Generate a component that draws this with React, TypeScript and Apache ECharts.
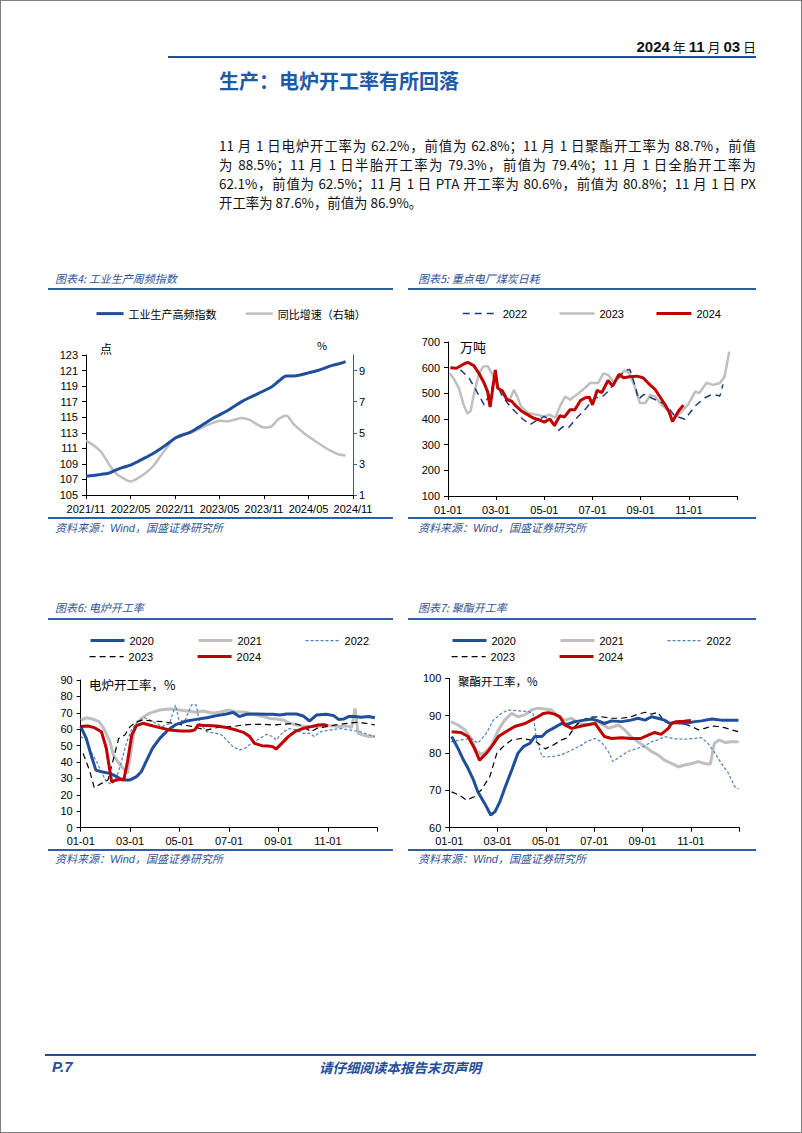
import React, { useEffect, useRef } from "react";
import * as echarts from "echarts";

const LATIN = "'Liberation Sans', Arial, 'Noto Sans CJK SC', sans-serif";
const CJK = "'Noto Sans CJK SC', 'Liberation Sans', sans-serif";

const BLUE = "#1f4e9a";
const RED = "#c00000";
const GRAY = "#bfbfbf";
const LIGHTBLUE = "#4f81bd";
const NAVY = "#1f3c7a";
const CAPTION = "#2f5496";
const RULE = "#2e5ea8";

// ---------- 图表4 ----------
const c4Months = [
  "2021/11", "2021/12", "2022/01", "2022/02", "2022/03", "2022/04", "2022/05", "2022/06", "2022/07",
  "2022/08", "2022/09", "2022/10", "2022/11", "2022/12", "2023/01", "2023/02", "2023/03", "2023/04",
  "2023/05", "2023/06", "2023/07", "2023/08", "2023/09", "2023/10", "2023/11", "2023/12", "2024/01",
  "2024/02", "2024/03", "2024/04", "2024/05", "2024/06", "2024/07", "2024/08", "2024/09", "2024/10",
  "2024/11",
];
const c4Index = [
  107.4, 107.5, 107.65, 107.8, 108.2, 108.55, 108.85, 109.3, 109.8, 110.3, 110.9, 111.6,
  112.3, 112.7, 113.05, 113.6, 114.2, 114.8, 115.3, 115.8, 116.4, 117.0, 117.5, 117.95,
  118.4, 118.9, 119.65, 120.3, 120.3, 120.45, 120.7, 120.95, 121.25, 121.6, 121.85, 122.15,
];
const c4Yoy = [
  4.5, 4.2, 3.8, 3.05, 2.4, 2.08, 1.86, 2.08, 2.4, 2.83, 3.47, 4.1,
  4.66, 4.91, 4.98, 5.19, 5.41, 5.62, 5.77, 5.73, 5.84, 5.95, 5.84, 5.56,
  5.34, 5.41, 5.9, 6.1, 5.56, 5.13, 4.76, 4.44, 4.12, 3.84, 3.62, 3.54,
];

// ---------- 图表5 重点电厂煤炭日耗（万吨） ----------
const coal2022: [string, number][] = [
  ["01-17", 592], ["01-28", 560], ["02-06", 510], ["02-15", 455], ["02-22", 500], ["02-28", 560],
  ["03-07", 500], ["03-16", 460], ["03-25", 430], ["04-04", 400], ["04-13", 378], ["04-22", 395],
  ["05-01", 410], ["05-10", 390], ["05-19", 355], ["05-25", 370], ["06-01", 365], ["06-10", 400],
  ["06-22", 438], ["07-04", 483], ["07-13", 485], ["07-22", 510], ["08-01", 550], ["08-07", 575],
  ["08-13", 590], ["08-18", 593], ["08-25", 528], ["08-29", 477], ["09-05", 496], ["09-16", 480],
  ["10-02", 457], ["10-14", 412], ["10-27", 399], ["11-09", 451], ["11-21", 483], ["11-30", 496],
  ["12-10", 490], ["12-14", 535],
];
const coal2023: [string, number][] = [
  ["01-03", 578], ["01-08", 559], ["01-15", 520], ["01-21", 456], ["01-26", 421], ["01-30", 430],
  ["02-03", 494], ["02-09", 578], ["02-14", 604], ["02-19", 607], ["02-24", 578], ["03-01", 540],
  ["03-08", 501], ["03-15", 475], ["03-19", 480], ["03-24", 514], ["03-28", 488], ["04-02", 449],
  ["04-11", 423], ["04-21", 417], ["05-01", 410], ["05-08", 417], ["05-15", 404], ["05-21", 449],
  ["05-28", 488], ["06-03", 475], ["06-11", 494], ["06-19", 514], ["06-28", 540], ["07-08", 540],
  ["07-15", 578], ["07-21", 572], ["07-28", 545], ["08-04", 560], ["08-11", 590], ["08-17", 580],
  ["08-24", 530], ["08-31", 462], ["09-07", 462], ["09-13", 494], ["09-19", 488], ["09-27", 456],
  ["10-08", 423], ["10-16", 410], ["10-23", 430], ["10-31", 456], ["11-09", 507], ["11-14", 501],
  ["11-23", 540], ["12-01", 533], ["12-10", 540], ["12-16", 565], ["12-22", 662],
];
const coal2024: [string, number][] = [
  ["01-04", 600], ["01-12", 598], ["01-23", 617], ["01-27", 620], ["02-03", 608], ["02-09", 578],
  ["02-15", 540], ["02-19", 507], ["02-22", 447], ["02-28", 591], ["03-03", 520], ["03-09", 510],
  ["03-15", 475], ["03-21", 469], ["03-27", 449], ["04-03", 430], ["04-10", 417], ["04-17", 404],
  ["04-26", 395], ["05-01", 388], ["05-08", 400], ["05-14", 375], ["05-21", 413], ["05-27", 408],
  ["06-03", 436], ["06-09", 436], ["06-16", 472], ["06-22", 483], ["06-27", 485], ["07-01", 455],
  ["07-07", 512], ["07-13", 503], ["07-21", 550], ["07-27", 528], ["08-04", 574], ["08-10", 561],
  ["08-18", 565], ["08-27", 567], ["09-04", 561], ["09-10", 541], ["09-19", 515], ["09-27", 477],
  ["10-06", 432], ["10-11", 390], ["10-19", 432], ["10-25", 454],
];

// ---------- 图表6 电炉开工率（%） ----------
const eaf2020: [string, number][] = [
  ["01-01", 61.6], ["01-08", 54.4], ["01-14", 44.3], ["01-20", 35.1], ["01-27", 34.1], ["02-06", 33.1],
  ["02-14", 31.1], ["02-20", 29.1], ["03-01", 29.1], ["03-09", 31.1], ["03-15", 34.1], ["03-21", 40.2],
  ["03-29", 48.4], ["04-07", 54.4], ["04-17", 59.5], ["04-27", 63.0], ["05-10", 65.0], ["05-22", 66.0],
  ["06-04", 67.0], ["06-16", 68.3], ["06-28", 69.3], ["07-06", 70.3], ["07-14", 67.7], ["07-23", 69.1],
  ["08-05", 69.3], ["08-17", 69.1], ["08-25", 69.1], ["09-03", 68.7], ["09-11", 69.3], ["09-23", 69.3],
  ["10-01", 68.1], ["10-09", 65.0], ["10-18", 68.7], ["10-30", 69.1], ["11-08", 68.3], ["11-14", 66.0],
  ["11-20", 66.2], ["11-26", 67.7], ["12-04", 67.7], ["12-12", 67.3], ["12-21", 67.7], ["12-29", 67.0],
];
const eaf2021: [string, number][] = [
  ["01-01", 65.6], ["01-08", 67.0], ["01-16", 66.2], ["01-24", 64.6], ["01-30", 60.5], ["02-06", 52.4],
  ["02-10", 44.3], ["02-15", 40.2], ["02-21", 36.2], ["02-26", 33.1], ["03-07", 61.6], ["03-15", 66.6],
  ["03-25", 69.7], ["04-07", 71.7], ["04-19", 72.3], ["05-01", 71.7], ["05-11", 71.1], ["05-22", 70.3],
  ["05-30", 71.1], ["06-12", 69.7], ["06-22", 70.7], ["06-30", 71.7], ["07-10", 70.7], ["07-23", 70.3],
  ["08-04", 68.7], ["08-13", 67.7], ["08-21", 66.6], ["08-29", 66.2], ["09-07", 65.6], ["09-15", 63.6],
  ["09-23", 62.6], ["10-05", 61.6], ["10-18", 61.6], ["10-30", 62.2], ["11-08", 62.0], ["11-16", 61.6],
  ["11-24", 62.0], ["11-30", 61.0], ["12-04", 72.7], ["12-08", 57.5], ["12-14", 56.5], ["12-22", 55.5],
  ["12-29", 55.5],
];
const eaf2022: [string, number][] = [
  ["01-01", 55.5], ["01-08", 53.4], ["01-14", 46.3], ["01-21", 40.2], ["01-27", 34.1], ["02-02", 28.0],
  ["02-08", 26.4], ["02-14", 31.1], ["02-18", 38.0], ["02-25", 52.0], ["03-03", 60.0], ["03-10", 64.5],
  ["03-19", 67.0], ["03-30", 64.6], ["04-10", 61.6], ["04-19", 63.5], ["04-26", 74.8], ["04-30", 66.0],
  ["05-07", 64.6], ["05-16", 74.8], ["05-22", 74.8], ["05-26", 63.6], ["06-04", 58.5], ["06-16", 57.5],
  ["06-22", 56.5], ["06-30", 52.4], ["07-06", 49.4], ["07-14", 47.3], ["07-21", 48.4], ["07-29", 51.4],
  ["08-09", 54.4], ["08-17", 56.9], ["08-25", 55.5], ["08-29", 53.4], ["09-07", 58.5], ["09-15", 60.5],
  ["09-23", 59.5], ["10-01", 57.5], ["10-09", 57.5], ["10-15", 55.5], ["10-23", 58.5], ["11-03", 59.5],
  ["11-16", 60.5], ["11-28", 59.5], ["12-10", 58.5], ["12-20", 56.9], ["12-29", 55.5],
];
const eaf2023: [string, number][] = [
  ["01-04", 45.3], ["01-12", 35.0], ["01-18", 24.4], ["01-27", 27.0], ["02-04", 29.1], ["02-16", 54.4],
  ["02-23", 56.5], ["03-01", 61.6], ["03-09", 64.6], ["03-17", 65.6], ["03-29", 65.0], ["04-11", 64.6],
  ["04-23", 63.6], ["05-05", 62.6], ["05-18", 61.6], ["05-26", 60.5], ["06-04", 59.5], ["06-12", 60.5],
  ["06-22", 61.6], ["07-06", 61.6], ["07-18", 62.6], ["07-30", 63.0], ["08-13", 63.0], ["08-25", 62.6],
  ["09-07", 63.0], ["09-19", 63.6], ["09-27", 62.6], ["10-05", 60.5], ["10-11", 58.5], ["10-18", 60.5],
  ["10-30", 61.6], ["11-11", 62.6], ["11-24", 63.6], ["12-06", 64.2], ["12-18", 63.6], ["12-29", 62.6],
];
const eaf2024: [string, number][] = [
  ["01-01", 61.6], ["01-10", 62.0], ["01-18", 61.0], ["01-27", 58.5], ["02-02", 48.4], ["02-08", 28.0],
  ["02-14", 29.1], ["02-22", 29.7], ["02-26", 40.2], ["03-03", 56.5], ["03-09", 62.2], ["03-17", 63.6],
  ["03-25", 62.6], ["04-07", 61.0], ["04-19", 59.5], ["05-02", 58.9], ["05-14", 58.9], ["05-20", 59.5],
  ["05-24", 62.6], ["06-04", 62.2], ["06-16", 62.0], ["06-28", 61.0], ["07-10", 59.5], ["07-19", 58.1],
  ["07-27", 55.5], ["08-02", 51.4], ["08-11", 50.0], ["08-19", 49.8], ["08-25", 49.4], ["08-29", 47.9],
  ["09-05", 51.4], ["09-13", 55.5], ["09-21", 58.5], ["10-01", 60.5], ["10-11", 61.6], ["10-20", 62.6],
  ["10-27", 62.8], ["11-01", 62.2],
];

// ---------- 图表7 聚酯开工率（%） ----------
const pet2020: [string, number][] = [
  ["01-04", 84.4], ["01-12", 81.3], ["01-18", 78.6], ["01-25", 75.9], ["02-01", 72.8], ["02-06", 69.6],
  ["02-14", 66.5], ["02-21", 63.4], ["02-26", 64.3], ["03-04", 67.0], ["03-10", 70.5], ["03-19", 75.4],
  ["03-27", 79.9], ["04-03", 81.7], ["04-11", 82.6], ["04-17", 84.4], ["04-26", 84.4], ["05-02", 85.7],
  ["05-10", 86.6], ["05-21", 87.9], ["05-29", 87.7], ["06-07", 88.4], ["06-19", 88.8], ["06-28", 89.1],
  ["07-06", 88.6], ["07-14", 87.9], ["07-23", 88.6], ["08-05", 88.4], ["08-17", 88.8], ["08-26", 89.3],
  ["09-04", 88.8], ["09-12", 89.7], ["09-20", 89.3], ["09-28", 88.8], ["10-05", 87.9], ["10-13", 88.2],
  ["10-24", 87.9], ["11-06", 88.4], ["11-14", 88.6], ["11-27", 89.1], ["12-09", 88.8], ["12-22", 88.8],
  ["12-31", 88.8],
];
const pet2021: [string, number][] = [
  ["01-03", 88.4], ["01-12", 87.5], ["01-21", 86.2], ["01-29", 83.9], ["02-04", 80.8], ["02-10", 79.6],
  ["02-16", 80.4], ["02-22", 82.1], ["03-02", 86.2], ["03-10", 88.8], ["03-19", 90.6], ["03-27", 89.7],
  ["04-05", 90.2], ["04-13", 91.5], ["04-21", 92.0], ["04-30", 91.8], ["05-08", 91.5], ["05-17", 89.7],
  ["05-25", 88.8], ["06-03", 89.3], ["06-11", 87.9], ["06-23", 87.5], ["07-06", 88.4], ["07-19", 86.6],
  ["08-01", 87.5], ["08-09", 86.2], ["08-17", 84.4], ["08-26", 83.0], ["09-04", 81.7], ["09-12", 80.4],
  ["09-20", 79.5], ["09-28", 78.1], ["10-07", 77.2], ["10-16", 76.3], ["10-24", 76.8], ["11-02", 77.2],
  ["11-10", 77.7], ["11-18", 77.2], ["11-25", 77.0], ["11-30", 82.6], ["12-06", 83.5], ["12-14", 82.8],
  ["12-22", 83.0], ["12-31", 83.0],
];
const pet2022: [string, number][] = [
  ["01-03", 83.0], ["01-16", 83.5], ["01-29", 83.9], ["02-06", 82.6], ["02-16", 85.3], ["02-24", 88.8],
  ["03-06", 90.6], ["03-14", 91.5], ["03-27", 91.3], ["04-09", 91.1], ["04-15", 90.6], ["04-19", 83.9],
  ["04-26", 79.0], ["05-08", 79.0], ["05-21", 79.5], ["06-03", 80.8], ["06-15", 82.1], ["06-21", 83.0],
  ["07-02", 83.9], ["07-10", 83.0], ["07-19", 80.4], ["07-25", 77.7], ["08-03", 79.0], ["08-13", 80.4],
  ["08-26", 81.3], ["09-02", 81.7], ["09-12", 83.0], ["09-20", 83.5], ["09-28", 84.4], ["10-11", 83.8],
  ["10-24", 83.7], ["11-06", 83.9], ["11-14", 84.1], ["11-22", 82.6], ["12-01", 79.9], ["12-09", 77.2],
  ["12-18", 74.6], ["12-26", 71.0], ["12-31", 70.4],
];
const pet2023: [string, number][] = [
  ["01-04", 69.6], ["01-14", 68.7], ["01-23", 67.4], ["02-02", 68.3], ["02-10", 70.1], ["02-20", 73.7],
  ["02-28", 79.9], ["03-08", 81.7], ["03-19", 83.5], ["04-01", 83.9], ["04-11", 83.5], ["04-19", 83.0],
  ["04-30", 81.1], ["05-10", 82.1], ["05-21", 83.5], ["05-29", 84.1], ["06-07", 87.1], ["06-15", 88.8],
  ["06-28", 89.6], ["07-10", 89.7], ["07-23", 89.3], ["08-05", 89.3], ["08-17", 89.7], ["08-26", 90.4],
  ["09-04", 90.9], ["09-12", 90.4], ["09-20", 90.9], ["09-28", 88.4], ["10-07", 87.8], ["10-16", 87.9],
  ["10-24", 87.7], ["11-02", 87.1], ["11-10", 86.2], ["11-18", 86.6], ["11-27", 87.2], ["12-05", 87.1],
  ["12-13", 86.8], ["12-22", 86.2], ["12-31", 85.7],
];
const pet2024: [string, number][] = [
  ["01-04", 85.7], ["01-16", 85.5], ["01-25", 84.4], ["02-02", 81.3], ["02-08", 78.1], ["02-16", 79.9],
  ["02-22", 81.7], ["03-02", 84.4], ["03-10", 85.5], ["03-23", 87.1], ["04-05", 87.9], ["04-13", 88.8],
  ["04-21", 89.7], ["04-28", 90.6], ["05-04", 90.8], ["05-12", 90.4], ["05-19", 89.7], ["05-25", 87.5],
  ["06-03", 86.6], ["06-11", 87.0], ["06-21", 87.5], ["07-02", 87.9], ["07-14", 84.4], ["07-23", 83.9],
  ["08-05", 84.1], ["08-17", 83.9], ["08-30", 83.9], ["09-08", 84.8], ["09-16", 85.5], ["09-24", 85.0],
  ["10-03", 86.6], ["10-07", 87.9], ["10-13", 88.4], ["10-23", 88.5], ["11-01", 88.7],
];

const paragraphLines = [
  "11 月 1 日电炉开工率为 62.2%，前值为 62.8%；11 月 1 日聚酯开工率为 88.7%，前值",
  "为 88.5%；11 月 1 日半胎开工率为 79.3%，前值为 79.4%；11 月 1 日全胎开工率为",
  "62.1%，前值为 62.5%；11 月 1 日 PTA 开工率为 80.6%，前值为 80.8%；11 月 1 日 PX",
  "开工率为 87.6%，前值为 86.9%。",
];

// ---------- helpers ----------
const DAYS = [31, 28, 31, 30, 31, 30, 31, 31, 30, 31, 30, 31];
function monthPos(d: string): number {
  const [m, day] = d.split("-").map(Number);
  return m - 1 + (day - 1) / DAYS[m - 1];
}
function toXY(list: [string, number][]) {
  return list.map(([d, v]) => [monthPos(d), v]);
}
const mmLabel = (v: number) => (v >= 12 ? "" : String(v + 1).padStart(2, "0") + "-01");

const axisLine = { show: true, onZero: false, lineStyle: { color: "#000", width: 1 } };
const axisTick = { show: true, length: 4, lineStyle: { color: "#000", width: 1 } };
const axisLabel = { color: "#000", fontSize: 11, fontFamily: LATIN, margin: 8 };

function legendRow(data: string[], left: number, top: number, itemWidth: number, itemGap: number, font = LATIN) {
  return {
    data,
    left,
    top,
    padding: 0,
    orient: "horizontal",
    itemWidth,
    itemHeight: 14,
    itemGap,
    textStyle: { fontSize: 11, color: "#000", fontFamily: font, padding: [0, 0, 0, 0] },
    lineStyle: { width: "inherit" },
    itemStyle: { opacity: 0 },
  };
}

function unitText(text: string, x: number, y: number, size: number, align = "left") {
  return {
    type: "text",
    x,
    y,
    silent: true,
    style: {
      text,
      fill: "#000",
      fontSize: size,
      fontFamily: CJK,
      align,
      textAlign: align,
      verticalAlign: "middle",
      textVerticalAlign: "middle",
    },
  };
}

type S = { name: string; data: [string, number][]; color: string; width: number; dash?: number[]; z: number };

function seasonal(cfg: {
  grid: { left: number; top: number; width: number; height: number };
  y: [number, number, number];
  legends: any[];
  series: S[];
  graphic: any[];
}) {
  return {
    animation: false,
    textStyle: { fontFamily: LATIN },
    legend: cfg.legends,
    grid: cfg.grid,
    xAxis: {
      type: "value",
      min: 0,
      max: 12,
      interval: 2,
      axisLine,
      axisTick,
      axisLabel: { ...axisLabel, formatter: mmLabel, showMaxLabel: true },
      splitLine: { show: false },
    },
    yAxis: {
      type: "value",
      min: cfg.y[0],
      max: cfg.y[1],
      interval: cfg.y[2],
      axisLine,
      axisTick,
      axisLabel,
      splitLine: { show: false },
    },
    series: cfg.series.map((s) => ({
      name: s.name,
      type: "line",
      data: toXY(s.data),
      symbol: "none",
      showSymbol: false,
      z: s.z,
      lineStyle: { color: s.color, width: s.width, type: s.dash || "solid" },
      itemStyle: { color: s.color },
    })),
    graphic: cfg.graphic,
  };
}

// ---------- options ----------
const option4 = {
  animation: false,
  textStyle: { fontFamily: LATIN },
  legend: legendRow(["工业生产高频指数", "同比增速（右轴）"], 55, 13, 27, 28, CJK),
  grid: { left: 46, top: 60, width: 267, height: 140 },
  xAxis: {
    type: "category",
    data: c4Months,
    boundaryGap: false,
    axisLine,
    axisTick: { ...axisTick, interval: 5 },
    axisLabel: { ...axisLabel, interval: 5 },
  },
  yAxis: [
    {
      type: "value",
      min: 105,
      max: 123,
      interval: 2,
      axisLine,
      axisTick,
      axisLabel,
      splitLine: { show: false },
    },
    {
      type: "value",
      position: "right",
      min: 1,
      max: 10,
      interval: 2,
      axisLine: { show: true, onZero: false, lineStyle: { color: "#2f5ea8", width: 1 } },
      axisTick: { show: true, length: 4, lineStyle: { color: "#2f5ea8" } },
      axisLabel: { ...axisLabel, margin: 6, showMaxLabel: false },
      splitLine: { show: false },
    },
  ],
  series: [
    {
      name: "同比增速（右轴）",
      type: "line",
      yAxisIndex: 1,
      data: c4Yoy,
      symbol: "none",
      smooth: 0.3,
      z: 2,
      lineStyle: { color: GRAY, width: 2.5 },
      itemStyle: { color: GRAY },
    },
    {
      name: "工业生产高频指数",
      type: "line",
      yAxisIndex: 0,
      data: c4Index,
      symbol: "none",
      smooth: 0.3,
      z: 3,
      lineStyle: { color: BLUE, width: 3 },
      itemStyle: { color: BLUE },
    },
  ],
  graphic: [unitText("点", 66, 53, 12, "center"), unitText("%", 282, 50, 11, "center")],
};

const option5 = seasonal({
  grid: { left: 43, top: 47, width: 289, height: 155 },
  y: [100, 700, 100],
  legends: [legendRow(["2022", "2023", "2024"], 57, 13, 35, 31)],
  series: [
    { name: "2023", data: coal2023, color: GRAY, width: 2.5, z: 2 },
    { name: "2022", data: coal2022, color: NAVY, width: 1.5, dash: [7, 5], z: 3 },
    { name: "2024", data: coal2024, color: RED, width: 3, z: 4 },
  ],
  graphic: [unitText("万吨", 55, 51, 13)],
});

const option6 = seasonal({
  grid: { left: 40.7, top: 55, width: 296.6, height: 147.7 },
  y: [0, 90, 10],
  legends: [
    legendRow(["2020", "2021", "2022"], 49, 10, 34, 43),
    legendRow(["2023", "2024"], 49, 26, 34, 43),
  ],
  series: [
    { name: "2021", data: eaf2021, color: GRAY, width: 3, z: 2 },
    { name: "2022", data: eaf2022, color: LIGHTBLUE, width: 1.2, dash: [3, 2], z: 3 },
    { name: "2023", data: eaf2023, color: "#000", width: 1.2, dash: [6, 4], z: 4 },
    { name: "2020", data: eaf2020, color: BLUE, width: 3, z: 5 },
    { name: "2024", data: eaf2024, color: RED, width: 3, z: 6 },
  ],
  graphic: [unitText("电炉开工率，%", 49, 59, 12.5)],
});

const option7 = seasonal({
  grid: { left: 44.3, top: 53.3, width: 290, height: 149.4 },
  y: [60, 100, 10],
  legends: [
    legendRow(["2020", "2021", "2022"], 46, 10, 34, 43),
    legendRow(["2023", "2024"], 46, 26, 34, 43),
  ],
  series: [
    { name: "2021", data: pet2021, color: GRAY, width: 3, z: 2 },
    { name: "2022", data: pet2022, color: LIGHTBLUE, width: 1.2, dash: [3, 2], z: 3 },
    { name: "2023", data: pet2023, color: "#000", width: 1.2, dash: [6, 4], z: 4 },
    { name: "2020", data: pet2020, color: BLUE, width: 3, z: 5 },
    { name: "2024", data: pet2024, color: RED, width: 3, z: 6 },
  ],
  graphic: [unitText("聚酯开工率，%", 53, 56, 11.5)],
});

// ---------- components ----------
function Chart({ option, left, top, width, height }: any) {
  const ref = useRef<HTMLDivElement>(null);
  useEffect(() => {
    if (!ref.current) return;
    const chart = echarts.init(ref.current, undefined, { renderer: "svg" });
    chart.setOption(option as any);
    return () => chart.dispose();
  }, [option]);
  return <div ref={ref} style={{ position: "absolute", left, top, width, height }} />;
}

const abs = (s: any): any => ({ position: "absolute", ...s });

function Rule({ left, top, width, color = RULE, h = 2 }: any) {
  return <div style={abs({ left, top, width, height: h, background: color })} />;
}

function Caption({ left, top, children }: any) {
  return (
    <div
      style={abs({
        left,
        top,
        fontSize: 11,
        lineHeight: "16px",
        fontStyle: "italic",
        color: CAPTION,
        whiteSpace: "nowrap",
        fontFamily: CJK,
      })}
    >
      {children}
    </div>
  );
}

function Source({ left, top }: any) {
  return (
    <Caption left={left} top={top}>
      资料来源：<span style={{ fontFamily: LATIN }}>Wind</span>，国盛证券研究所
    </Caption>
  );
}

export default function App() {
  const cjkSmall = { fontWeight: 400, fontSize: 13, fontFamily: CJK };
  return (
    <div style={abs({ left: 0, top: 0, width: 802, height: 1133, background: "#fff", overflow: "hidden", fontFamily: CJK })}>
      {/* header */}
      <div
        style={abs({
          right: 46,
          top: 38,
          fontSize: 15,
          fontWeight: 700,
          lineHeight: "18px",
          color: "#111",
          fontFamily: LATIN,
          whiteSpace: "nowrap",
        })}
      >
        2024<span style={cjkSmall}> 年 </span>11<span style={cjkSmall}> 月 </span>03<span style={cjkSmall}> 日</span>
      </div>
      <Rule left={168} top={56} width={588} color={BLUE} />
      <div
        style={abs({
          left: 219,
          top: 67,
          fontSize: 20,
          lineHeight: "28px",
          fontWeight: 700,
          color: "#1f5aa6",
          whiteSpace: "nowrap",
        })}
      >
        生产：电炉开工率有所回落
      </div>

      {paragraphLines.map((t, i) => (
        <div
          key={i}
          lang="zh-CN"
          style={abs({
            left: 219,
            width: 537,
            top: 135.5 + i * 19,
            fontSize: 13.4,
            lineHeight: "19px",
            color: "#111",
            textAlign: "justify",
            textAlignLast: i < paragraphLines.length - 1 ? "justify" : "left",
            fontFamily: CJK,
          })}
        >
          {t}
        </div>
      ))}

      {/* 图表4 */}
      <Caption left={55} top={270}>图表4: 工业生产周频指数</Caption>
      <Rule left={48} top={288} width={345} />
      <Chart option={option4} left={40} top={295} width={360} height={220} />
      <Rule left={48} top={517} width={345} />
      <Source left={55} top={519} />

      {/* 图表5 */}
      <Caption left={418} top={270}>图表5: 重点电厂煤炭日耗</Caption>
      <Rule left={408} top={288} width={348} />
      <Chart option={option5} left={405} top={295} width={360} height={220} />
      <Rule left={408} top={517} width={348} />
      <Source left={418} top={519} />

      {/* 图表6 */}
      <Caption left={55} top={599}>图表6: 电炉开工率</Caption>
      <Rule left={48} top={618} width={345} />
      <Chart option={option6} left={40} top={625} width={360} height={222} />
      <Rule left={48} top={849} width={345} />
      <Source left={55} top={850} />

      {/* 图表7 */}
      <Caption left={418} top={599}>图表7: 聚酯开工率</Caption>
      <Rule left={408} top={618} width={348} />
      <Chart option={option7} left={405} top={625} width={360} height={222} />
      <Rule left={408} top={849} width={348} />
      <Source left={418} top={850} />

      {/* footer */}
      <Rule left={45} top={1054} width={711} color={BLUE} />
      <div
        style={abs({
          left: 52,
          top: 1058,
          fontSize: 15,
          lineHeight: "18px",
          fontWeight: 700,
          fontStyle: "italic",
          color: BLUE,
          fontFamily: LATIN,
        })}
      >
        P.7
      </div>
      <div
        style={abs({
          left: 300,
          width: 200,
          top: 1058,
          fontSize: 13.5,
          lineHeight: "18px",
          fontWeight: 700,
          fontStyle: "italic",
          color: BLUE,
          textAlign: "center",
        })}
      >
        请仔细阅读本报告末页声明
      </div>

      {/* page frame */}
      <div
        style={abs({
          left: 0,
          top: 0,
          width: 802,
          height: 1133,
          boxSizing: "border-box",
          border: "1px solid #7f7f7f",
          pointerEvents: "none",
        })}
      />
    </div>
  );
}
